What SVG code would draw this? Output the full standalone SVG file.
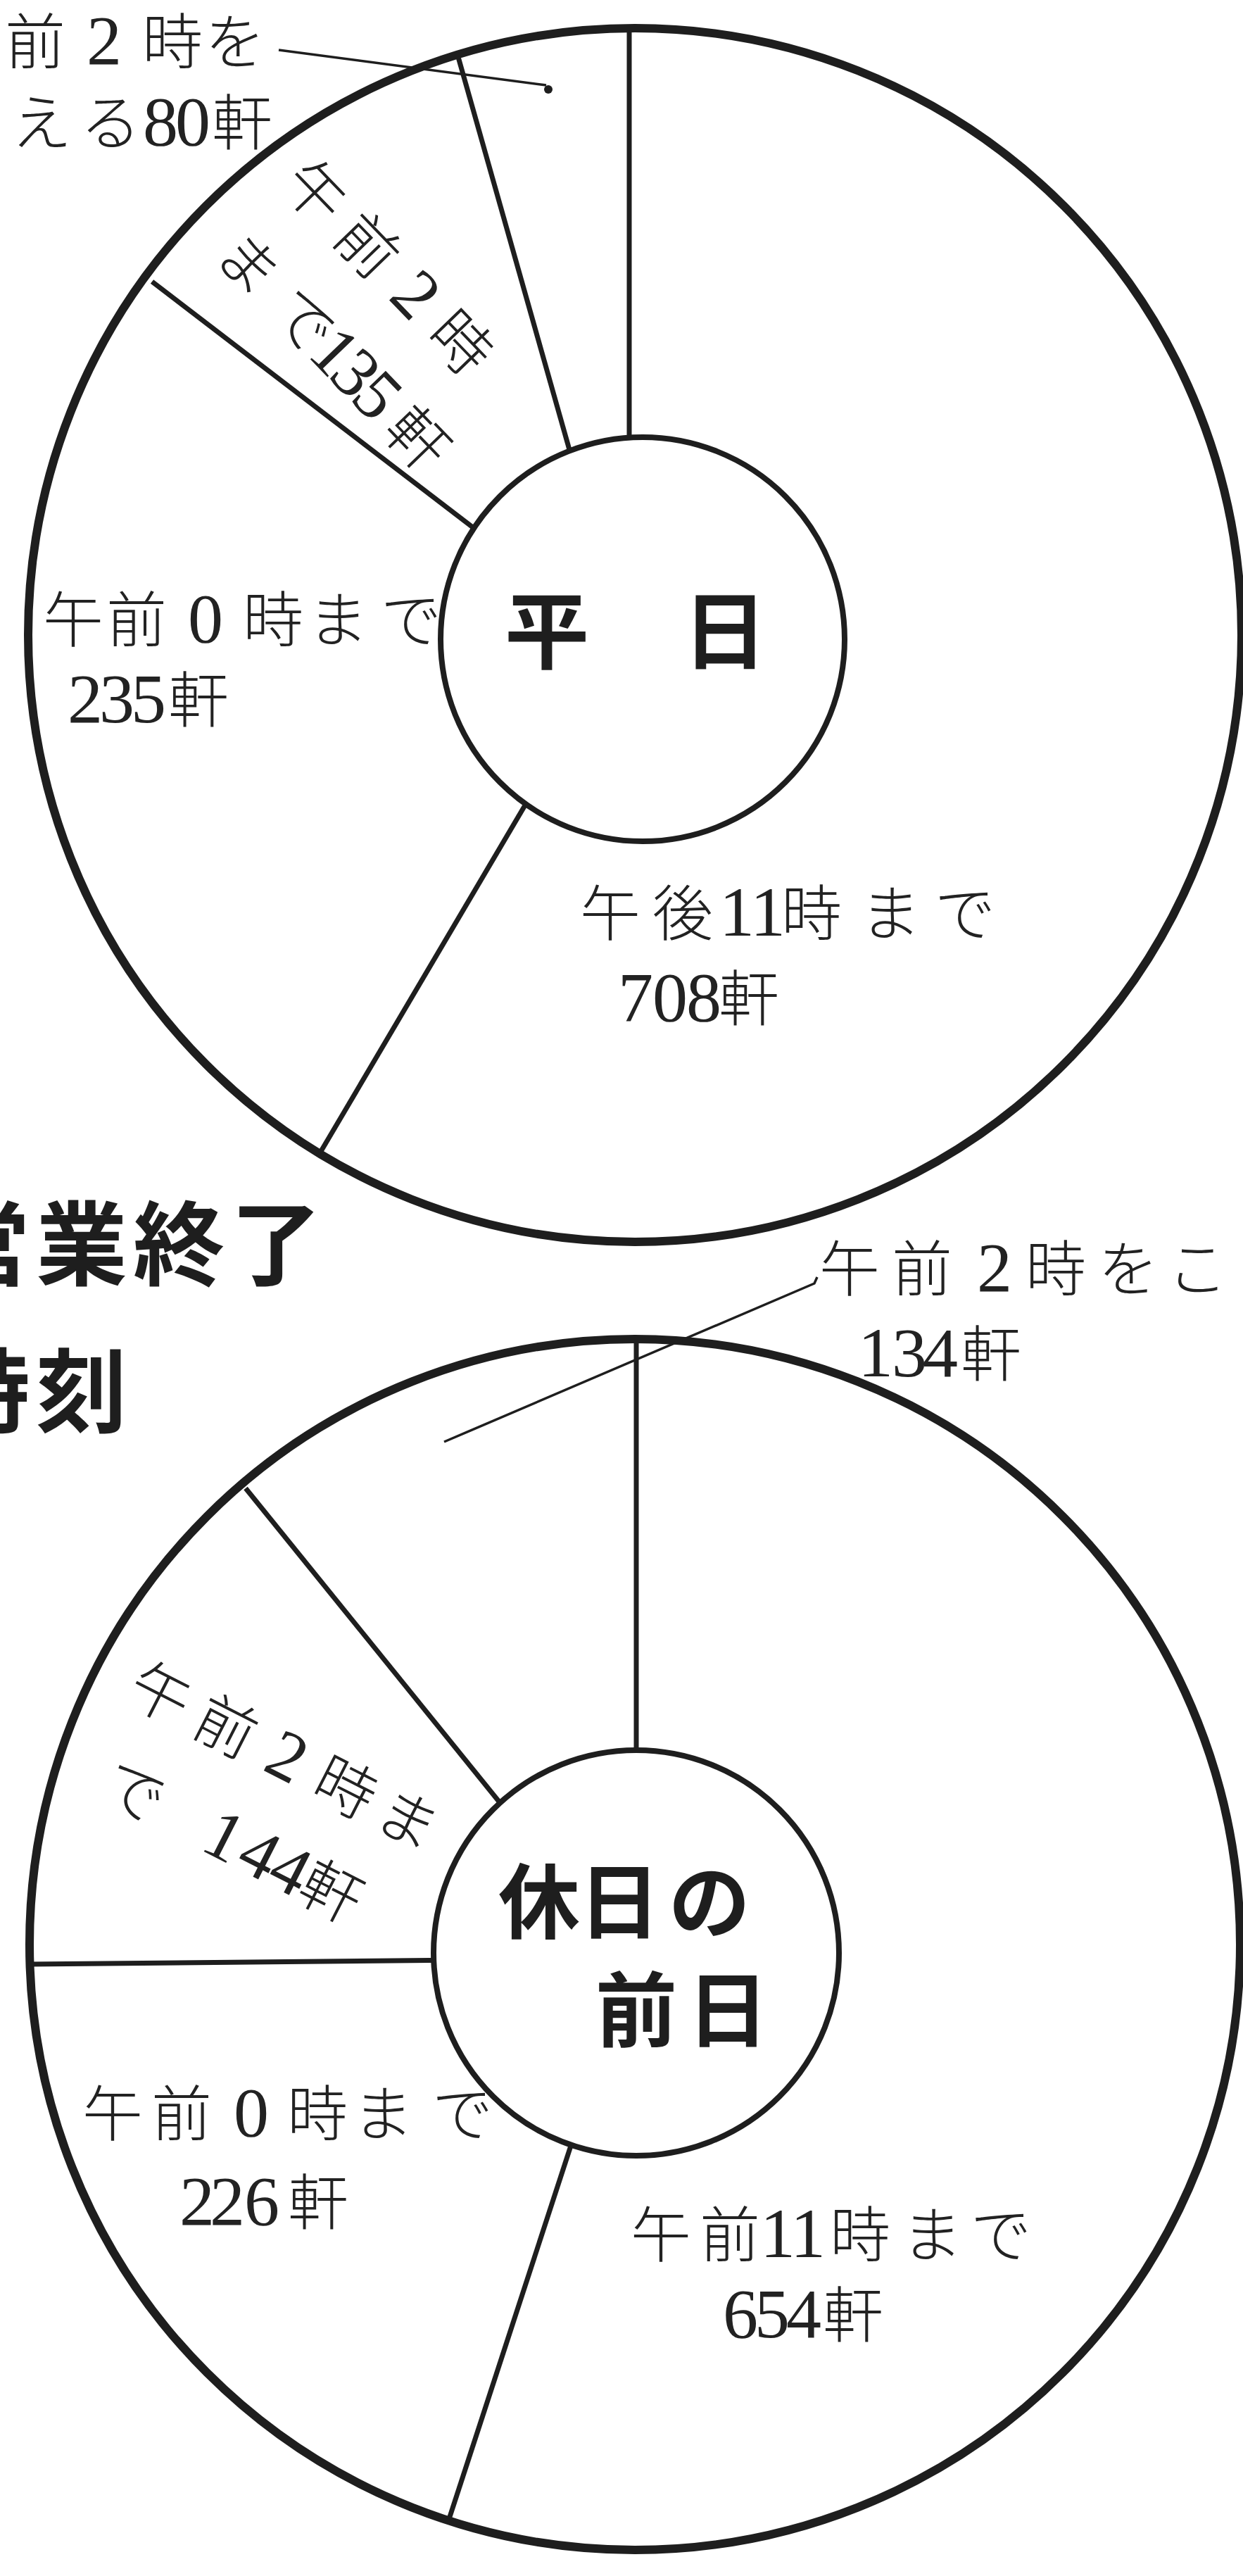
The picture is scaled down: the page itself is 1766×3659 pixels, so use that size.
<svg xmlns="http://www.w3.org/2000/svg" width="1766" height="3659" viewBox="0 0 1766 3659">
<style>
.ol{fill:none;stroke:#1e1e1e;stroke-width:12}
.il{fill:#fff;stroke:#1e1e1e;stroke-width:8}
.dv{stroke:#1e1e1e;stroke-width:7;fill:none}
.ld{stroke:#1e1e1e;stroke-width:3.5;fill:none}
.lb{font-family:"Noto Sans CJK JP","Noto Sans CJK SC",sans-serif;font-size:86px;font-weight:300;fill:#222;text-anchor:middle}
.n{font-family:"Liberation Serif","Noto Sans CJK JP",serif;font-size:100px;font-weight:400}
.tt{font-family:"Noto Sans CJK JP","Noto Sans CJK SC",sans-serif;font-weight:700;fill:#1e1e1e;text-anchor:middle}
</style>
<rect x="0" y="0" width="1766" height="3659" fill="#fff"/>

<g id="weekday-chart">
  <circle class="ol" cx="902" cy="902" r="862"/>
  <g id="weekday-dividers">
    <line class="dv" x1="894" y1="40" x2="894" y2="660"/>
    <line class="dv" x1="651" y1="81" x2="815" y2="660"/>
    <line class="dv" x1="216" y1="400" x2="690" y2="763"/>
    <line class="dv" x1="760" y1="1120" x2="455" y2="1637"/>
  </g>
  <g id="weekday-center">
    <circle class="il" cx="913" cy="908" r="287"/>
    <text class="tt" style="font-size:120px" x="777 903 1030" y="941">平　日</text>
  </g>
  <g id="weekday-over2">
    <text class="lb"><tspan x="50" y="91">前</tspan><tspan class="n" x="148" y="91">2</tspan><tspan x="245 334" y="91">時を</tspan><tspan x="59 157" y="206">える</tspan><tspan class="n" x="228 274" y="206">80</tspan><tspan x="344" y="206">軒</tspan></text>
  </g>
  <g id="weekday-until2">
    <text class="lb" transform="translate(453 268) rotate(46)"><tspan x="0 106" y="38">午前</tspan><tspan class="n" x="204" y="38">2</tspan><tspan x="298" y="38">時</tspan><tspan x="7 120" y="177">まで</tspan><tspan class="n" x="182 225 269" y="177">135</tspan><tspan x="353" y="177">軒</tspan></text>
  </g>
  <g id="weekday-until0">
    <text class="lb"><tspan x="104 194" y="912">午前</tspan><tspan class="n" x="292" y="912">0</tspan><tspan x="388 480 584" y="912">時まで</tspan><tspan class="n" x="121 166 211" y="1026">235</tspan><tspan x="282" y="1026">軒</tspan></text>
  </g>
  <g id="weekday-until11">
    <text class="lb"><tspan x="867 970" y="1329">午後</tspan><tspan class="n" x="1047 1091" y="1329">11</tspan><tspan x="1153 1265 1371" y="1329">時まで</tspan><tspan class="n" x="903 952 1000" y="1450">708</tspan><tspan x="1064" y="1450">軒</tspan></text>
  </g>
</g>

<g id="title">
  <text class="tt" style="font-size:130px"><tspan x="-22 116 254 392" y="1815">営業終了</tspan><tspan x="-22 116" y="2024">時刻</tspan></text>
</g>

<g id="preholiday-chart">
  <circle class="ol" cx="902" cy="2762" r="860"/>
  <g id="preholiday-dividers">
    <line class="dv" x1="904" y1="1902" x2="904" y2="2530"/>
    <line class="dv" x1="349" y1="2114" x2="730" y2="2585"/>
    <line class="dv" x1="42" y1="2790" x2="660" y2="2784"/>
    <line class="dv" x1="825" y1="3005" x2="638" y2="3578"/>
  </g>
  <g id="preholiday-center">
    <circle class="il" cx="904" cy="2774" r="288"/>
    <text class="tt" style="font-size:116px"><tspan x="766 880 1008" y="2744">休日の</tspan><tspan x="904 1034" y="2898">前日</tspan></text>
  </g>
  <g id="preholiday-over2">
    <text class="lb"><tspan x="1207 1310" y="1834">午前</tspan><tspan class="n" x="1413" y="1834">2</tspan><tspan x="1500 1603 1701" y="1834">時をこ</tspan><tspan class="n" x="1244 1292 1336" y="1955">134</tspan><tspan x="1408" y="1955">軒</tspan></text>
  </g>
  <g id="preholiday-until2">
    <text class="lb" transform="translate(230 2402) rotate(27)"><tspan x="0 104" y="35">午前</tspan><tspan class="n" x="201" y="35">2</tspan><tspan x="295 394" y="35">時ま</tspan><tspan x="30" y="176">で</tspan><tspan class="n" x="173 229 278" y="176">144</tspan><tspan x="344" y="176">軒</tspan></text>
  </g>
  <g id="preholiday-until0">
    <text class="lb"><tspan x="160 258" y="3034">午前</tspan><tspan class="n" x="357" y="3034">0</tspan><tspan x="451 544 657" y="3034">時まで</tspan><tspan class="n" x="280 323 372" y="3160">226</tspan><tspan x="452" y="3160">軒</tspan></text>
  </g>
  <g id="preholiday-until11">
    <text class="lb"><tspan x="939 1037" y="3206">午前</tspan><tspan class="n" x="1105 1148" y="3206">11</tspan><tspan x="1222 1324 1422" y="3206">時まで</tspan><tspan class="n" x="1052 1097 1142" y="3320">654</tspan><tspan x="1212" y="3320">軒</tspan></text>
  </g>
</g>

<g id="leaders">
  <line class="ld" x1="396" y1="71" x2="776" y2="121"/>
  <circle cx="779" cy="127" r="6" fill="#1e1e1e"/>
  <polyline class="ld" points="631,2048 1157,1823 1161,1814"/>
</g>
</svg>
